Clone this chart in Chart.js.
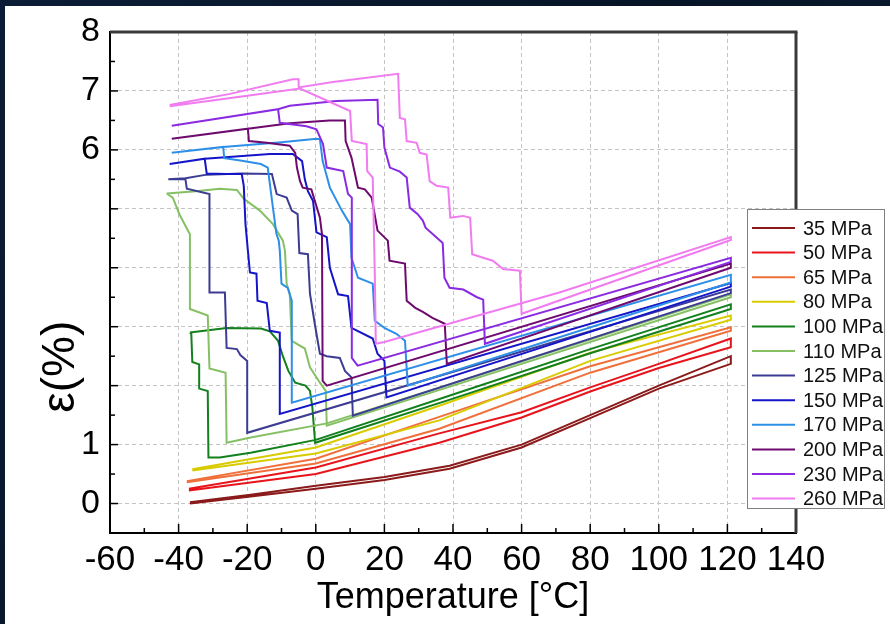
<!DOCTYPE html>
<html><head><meta charset="utf-8">
<script src="https://cdn.jsdelivr.net/npm/chart.js@4.4.1/dist/chart.umd.min.js"></script>
<style>html,body{margin:0;padding:0;background:#0c1a2c;}#wrap{width:890px;height:624px;position:relative;}canvas{display:block;}</style>
</head><body><div id="wrap"><canvas id="c" width="890" height="624"></canvas></div>
<script>
// ---- data (temperature °C, strain %) : each series is a closed heating/cooling loop ----
const seriesLabels = ['35 MPa','50 MPa','65 MPa','80 MPa','100 MPa','110 MPa','125 MPa','150 MPa','170 MPa','200 MPa','230 MPa','260 MPa'];

const T35 = [-36.7,-19,0,20,39,60,80,100,121,121,100,80,60,39,20,0,-19,-36.7];
const E35 = [0,0.12,0.25,0.4,0.59,0.95,1.45,1.95,2.37,2.5,2.0,1.5,1.0,0.64,0.45,0.3,0.15,0.02];

const T50 = [-37,0,36,60,80,100,121,121,100,80,60,36,0,-37];
const E50 = [0.22,0.5,1.03,1.46,1.9,2.3,2.65,2.8,2.37,1.97,1.55,1.19,0.61,0.25];

const T65 = [-37.6,0,36,80,121,121,80,36,0,-37.6];
const E65 = [0.36,0.68,1.27,2.22,2.93,2.99,2.33,1.47,0.76,0.38];

const T80 = [-36,0,36,80,121,121,80,36,0,-36];
const E80 = [0.56,0.85,1.41,2.42,3.12,3.19,2.56,1.66,0.95,0.58];

const T100 = [-36.7,-26,-16,-13.4,-11,-9.6,-8,-6,-3,-1.7,-1,-0.2,40,80,121, 121,80,40,0,-19,-28,-31.3,-31.5,-34,-34,-36,-36.3,-36.7];
const E100 = [2.9,2.98,2.97,2.92,2.76,2.5,2.25,2.05,2.0,1.91,1.63,1.03,1.78,2.55,3.3, 3.38,2.62,1.85,1.08,0.86,0.78,0.78,1.91,1.95,2.36,2.4,2.88,2.9];

const T110 = [-43.5,-35,-28,-23,-21,-16.3,-12.5,-9.6,-9,-8.5,-7.6,-7,-3.2,-1.7,1.2,2.9,3.2,60,121, 121,60,3.2,-19,-26,-26.3,-31,-31.5,-36.7,-36.7,-39.7,-41.7,-43.5];
const E110 = [5.26,5.3,5.34,5.32,5.17,4.97,4.74,4.46,4.29,3.73,3.56,2.76,2.63,2.31,2.05,1.91,1.32,2.37,3.5, 3.55,2.41,1.36,1.12,1.03,2.22,2.29,3.19,3.3,4.57,4.9,5.19,5.26];

const T125 = [-43,-38,-31.8,-21.6,-12.8,-11.4,-8.5,-7,-5.3,-4.8,-2.3,-1.7,-0.3,1.2,3.2,7,8.5,10.4,10.8,121, 121,-20,-20,-22,-23,-26,-26.5,-31,-31,-37.6,-38,-43];
const E125 = [5.5,5.52,5.58,5.6,5.59,5.25,5.19,4.97,4.91,4.25,4.23,3.56,3.05,2.54,2.5,2.47,2.25,2.14,1.49,3.57, 3.63,1.2,2.42,2.52,2.62,2.64,3.58,3.58,5.25,5.34,5.5,5.5];

const T150 = [-42.6,-32.4,-13.4,-6.7,-4,-3.2,-2.3,-0.8,0.2,3.2,4.1,6.5,9.4,10.4,16.6,18,20,20.6,121, 121,-10.5,-10.5,-13.4,-14.3,-17,-17.3,-19.2,-19.8,-20.5,-21,-21.6,-26,-31.8,-32.4,-42.6];
const E150 = [5.76,5.85,5.93,5.93,5.81,5.5,5.3,5.13,4.6,4.52,4.0,3.55,3.52,2.98,2.8,2.54,2.42,1.8,3.68, 3.74,1.52,2.9,2.93,3.4,3.44,3.9,3.92,4.29,4.74,5.39,5.59,5.59,5.6,5.85,5.76];

const T170 = [-42,-27,-10,0.2,1.2,2,4.1,7.6,10,10.4,12.3,16.6,17.2,20,23.5,26,26.8,121, 121,-7,-7,-8.2,-10,-10.5,-10.8,-11.5,-12.5,-13.5,-14,-16,-22,-26.7,-27,-42];
const E170 = [5.95,6.05,6.13,6.19,6.18,5.81,5.36,4.97,4.74,4.17,3.83,3.73,3.1,2.98,2.88,2.76,2.0,3.75, 3.88,1.71,3.44,3.66,3.73,4.29,4.46,4.58,5.02,5.47,5.7,5.76,5.82,5.86,6.05,5.95];

const T200 = [-42,-19.8,-7.6,4,8.5,8.7,10.4,12.3,14.3,16.3,18,21,21.5,26,26.5,29,31.2,34,37.6,38.2,121, 121,3.2,2,1.8,1.2,-1.3,-3.8,-4.6,-5.5,-6,-7.6,-14.3,-19.5,-19.8,-42];
const E200 = [6.19,6.36,6.45,6.5,6.5,6.15,5.87,5.36,5.33,5.19,4.63,4.46,4.12,4.07,3.44,3.32,3.25,3.15,3.05,2.37,4.0, 4.07,2.0,2.08,4.57,4.85,5.33,5.36,5.47,5.7,5.95,6.07,6.12,6.15,6.36,6.19];

const T230 = [-42,-11,-7.6,6,18,18.2,19.6,20,21.6,24.5,26.5,27.4,29.7,31.2,32,37,37.5,39,43,47,48.8,49.3,121, 121,12.2,10.5,10.5,9.4,8,3.2,2.1,0.2,-2.7,-10.5,-11,-42];
const E230 = [6.41,6.69,6.75,6.83,6.85,6.44,6.38,6.04,5.7,5.63,5.53,5.02,4.91,4.8,4.68,4.42,3.83,3.66,3.63,3.5,3.46,2.71,4.1, 4.17,2.34,2.47,5.19,5.25,5.64,5.7,6.1,6.35,6.4,6.46,6.69,6.41];

const T260 = [-42.6,-25,-6.7,-5,-5,5,24,24.5,26,26.5,29.4,30.3,32.3,33.2,35.2,38.6,39.2,43,45,45.6,48.8,51.6,54.6,59.5,60,121, 121,71,20,17.5,17.2,16.6,15,14.8,10.5,10,-4.6,-20,-42.6];
const E260 = [6.76,6.95,7.2,7.2,7.06,7.15,7.29,6.54,6.52,6.15,6.12,5.95,5.92,5.47,5.39,5.36,4.85,4.88,4.85,4.23,4.17,4.12,3.98,3.95,3.22,4.47, 4.52,3.58,2.74,2.71,3.9,5.53,5.64,6.1,6.15,6.66,7.04,6.92,6.74];

const seriesTemps   = [T35,T50,T65,T80,T100,T110,T125,T150,T170,T200,T230,T260];
const seriesStrains = [E35,E50,E65,E80,E100,E110,E125,E150,E170,E200,E230,E260];
const xTickValues = [-60,-40,-20,0,20,40,60,80,100,120,140];
const yTickValues = [0,1,2,3,4,5,6,7,8];
const yTickLabelsShown = [0,1,6,7,8];

// ---- styles ----
const seriesColors = ['#8b1a1a','#e8141c','#f0703c','#d8cc00','#12801c','#86c064','#3c3c94','#1414c8','#2e8fe8','#6e0a6e','#8a2be2','#f07cf0'];
const FONT = '"Liberation Sans", Arial, sans-serif';

const datasets = seriesLabels.map((lab,i)=>({
  label: lab,
  data: seriesTemps[i].map((t,j)=>({x:t, y:seriesStrains[i][j]})),
  showLine: true, borderColor: seriesColors[i], backgroundColor: seriesColors[i],
  borderWidth: 2, pointRadius: 0, tension: 0, fill: false, order: seriesLabels.length - i
}));

const deco = {
  id: 'deco',
  beforeDraw(chart){
    const {ctx, width, height} = chart;
    ctx.save();
    const g = ctx.createLinearGradient(0,0,width,height);
    g.addColorStop(0,'#0b1d36'); g.addColorStop(0.5,'#071426'); g.addColorStop(1,'#0d2038');
    ctx.fillStyle = g; ctx.fillRect(0,0,width,height);
    ctx.fillStyle = '#ffffff'; ctx.fillRect(5,6,width-5,height-6);
    ctx.restore();
  },
  afterDraw(chart){
    const {ctx, chartArea:a, scales:{x, y}} = chart;
    const ln = (x1,y1,x2,y2)=>{ctx.beginPath();ctx.moveTo(x1,y1);ctx.lineTo(x2,y2);ctx.stroke();};
    ctx.save();
    // inner ticks (major + minor)
    ctx.strokeStyle = '#000'; ctx.lineWidth = 1.5;
    for (let v = x.min; v <= x.max; v += 10) {
      const px = x.getPixelForValue(v); const len = (v % 20 === 0) ? 9 : 5;
      ln(px, a.bottom, px, a.bottom - len);
    }
    for (let v = y.min; v <= y.max + 1e-9; v += 0.5) {
      const py = y.getPixelForValue(v); const len = Number.isInteger(v) ? 8 : 5;
      ln(a.left, py, a.left + len, py);
    }
    // top / right frame
    ctx.strokeStyle = '#3a3a3a'; ctx.lineWidth = 3;
    ln(a.left, a.top, a.right + 1.5, a.top);
    ln(a.right, a.top, a.right, a.bottom);
    // y axis title
    ctx.save();
    ctx.translate(61, y.getPixelForValue(2.32));
    ctx.rotate(-Math.PI/2);
    ctx.fillStyle = '#000'; ctx.font = '46px ' + FONT;
    ctx.textAlign = 'center'; ctx.textBaseline = 'middle';
    ctx.fillText('ε(%)', 0, 0);
    ctx.restore();
    // legend
    const lx = 747, ly = 209, lw = 137, lh = 299;
    ctx.fillStyle = '#fff'; ctx.fillRect(lx, ly, lw, lh);
    ctx.strokeStyle = '#808080'; ctx.lineWidth = 1;
    ctx.strokeRect(lx + 0.5, ly + 0.5, lw, lh);
    ctx.font = '20px ' + FONT; ctx.textAlign = 'left'; ctx.textBaseline = 'middle';
    chart.data.datasets.forEach((ds, i) => {
      const cy = 228 + i * 24.6;
      ctx.strokeStyle = ds.borderColor; ctx.lineWidth = 2;
      ln(752, cy, 795, cy);
      ctx.fillStyle = '#111'; ctx.fillText(ds.label, 803, cy + 1);
    });
    ctx.restore();
  }
};

new Chart(document.getElementById('c'), {
  type: 'scatter',
  data: { datasets },
  options: {
    responsive: false, animation: false, devicePixelRatio: 1,
    layout: { padding: { left: 0, top: 32, right: 94, bottom: 0 } },
    plugins: { legend: { display: false }, tooltip: { enabled: false } },
    scales: {
      x: {
        type: 'linear', min: -60, max: 140,
        afterBuildTicks(s){ s.ticks = xTickValues.map(v => ({ value: v })); },
        ticks: { color: '#000', font: { family: FONT, size: 35 }, padding: 6, autoSkip: false, maxRotation: 0 },
        grid: { color: '#c4c4c4', lineWidth: 1, drawTicks: false },
        border: { color: '#000', width: 2, dash: [4,3] },
        title: { display: true, text: 'Temperature [°C]', color: '#000', font: { family: FONT, size: 36 }, padding: { top: 4, bottom: 4 } },
        afterFit(s){ s.height = 91; }
      },
      y: {
        type: 'linear', min: -0.5, max: 8,
        afterBuildTicks(s){ s.ticks = yTickValues.map(v => ({ value: v })); },
        ticks: { color: '#000', font: { family: FONT, size: 34 }, padding: 10, autoSkip: false,
          callback: v => yTickLabelsShown.includes(v) ? String(v) : '' },
        grid: { color: '#c4c4c4', lineWidth: 1, drawTicks: false },
        border: { color: '#000', width: 2, dash: [4,3] },
        afterFit(s){ s.width = 110; }
      }
    }
  },
  plugins: [deco]
});
</script></body></html>
